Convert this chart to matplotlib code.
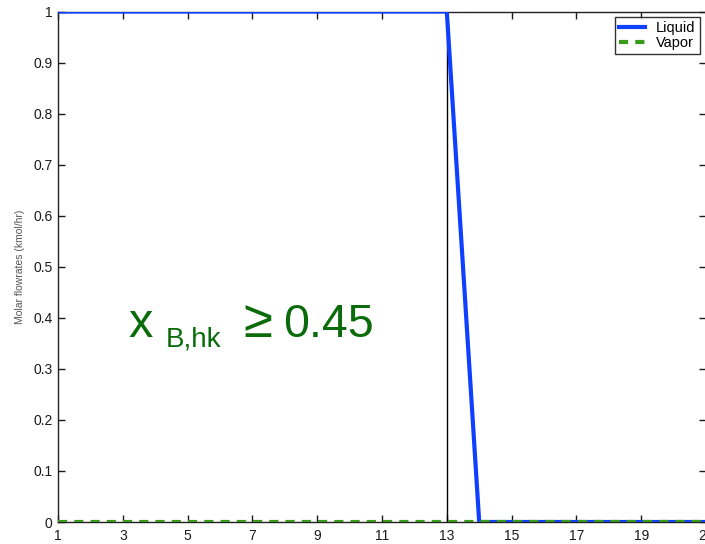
import matplotlib
matplotlib.use("Agg")
import matplotlib.pyplot as plt

stages = list(range(1, 22))
liquid = [1, 1, 1, 1, 1, 1, 1, 1, 1, 1, 1, 1, 1, 0, 0, 0, 0, 0, 0, 0, 0]
vapor = [0] * 21
marker_stage = 13
xticks = [1, 3, 5, 7, 9, 11, 13, 15, 17, 19, 21]
yticks = [0, 0.1, 0.2, 0.3, 0.4, 0.5, 0.6, 0.7, 0.8, 0.9, 1]
ytick_labels = ["0", "0.1", "0.2", "0.3", "0.4", "0.5", "0.6", "0.7", "0.8", "0.9", "1"]

plt.rcParams['font.family'] = ['Liberation Sans', 'DejaVu Sans']

W, H = 705, 544
fig = plt.figure(figsize=(W / 100, H / 100), dpi=100)
ax = fig.add_axes([58 / W, 1 - 522 / H, (706 - 58) / W, (522 - 11.5) / H])

ax.plot(stages, liquid, color='#1040ff', lw=3.0, label='Liquid', zorder=3)
ax.plot(stages, vapor, color='#3a9a1a', lw=3.0, ls=(0, (2.2, 1.7)), label='Vapor', zorder=4)
ax.plot([marker_stage, marker_stage], [0, 1], color='black', lw=1.0, zorder=2)

ax.set_xlim(1, 21)
ax.set_ylim(0, 1)
ax.set_xticks(xticks)
ax.set_yticks(yticks)
ax.set_yticklabels(ytick_labels)
ax.tick_params(direction='in', length=5, width=1, top=True, right=True,
               labelsize=10, colors='#1a1a1a', pad=4)
ax.tick_params(axis='x', pad=5)
for s in ax.spines.values():
    s.set_linewidth(1.0)
    s.set_color('#222222')

ax.set_ylabel('Molar flowrates (kmol/hr)', fontsize=7.5, color='#555555', labelpad=6)

leg = ax.legend(loc='upper right', bbox_to_anchor=(700 / W, 1 - 17 / H),
                bbox_transform=fig.transFigure, fontsize=10.5, frameon=True,
                fancybox=False, handlelength=1.8, borderpad=0.3, labelspacing=0.05,
                handletextpad=0.75, borderaxespad=0)
leg.get_frame().set_edgecolor('black')
leg.get_frame().set_linewidth(1.0)

green = '#0a6b0a'
fig.text(128 / W, 1 - 337 / H, 'x', fontsize=35, color=green, ha='left', va='baseline')
fig.text(166 / W, 1 - 347 / H, 'B,hk', fontsize=20, color=green, ha='left', va='baseline')
fig.text(243 / W, 1 - 337 / H, '≥', fontsize=38, color=green, ha='left', va='baseline')
fig.text(283 / W, 1 - 337 / H, '0.45', fontsize=33.5, color=green, ha='left', va='baseline')

fig.savefig('out.png', dpi=100)
